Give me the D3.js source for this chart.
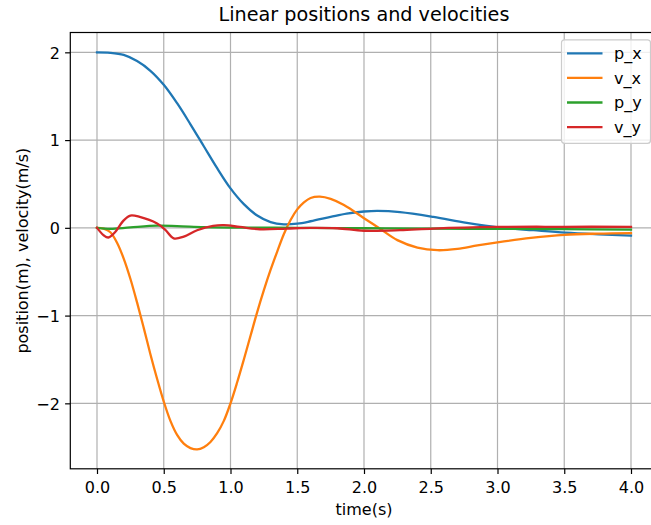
<!DOCTYPE html>
<html>
<head>
<meta charset="utf-8">
<script src="https://cdn.jsdelivr.net/npm/d3@7"></script>
<style>
  body { margin: 0; background: #fff; }
  text { font-family: "DejaVu Sans", sans-serif; }
</style>
</head>
<body>
<div id="grafica"></div>
<script>
// data: [time, value]
var pxData = [[0,2.0],[0.1,1.995],[0.2,1.97],[0.3,1.9],[0.4,1.79],[0.5,1.63],[0.6,1.42],[0.7,1.18],[0.8,0.93],[0.9,0.68],[1.0,0.45],[1.1,0.27],[1.2,0.14],[1.3,0.065],[1.4,0.04],[1.5,0.048],[1.6,0.075],[1.75,0.125],[1.87,0.163],[2.0,0.186],[2.1,0.193],[2.27,0.18],[2.52,0.125],[2.77,0.056],[3.02,0.003],[3.27,-0.027],[3.51,-0.054],[3.76,-0.073],[4.0,-0.088]];
var vxData = [[0,0],[0.05,-0.01],[0.1,-0.05],[0.15,-0.17],[0.2,-0.35],[0.25,-0.58],[0.3,-0.85],[0.35,-1.14],[0.4,-1.44],[0.45,-1.72],[0.5,-1.98],[0.55,-2.2],[0.6,-2.36],[0.65,-2.46],[0.7,-2.51],[0.75,-2.525],[0.8,-2.5],[0.85,-2.44],[0.9,-2.34],[0.95,-2.2],[1.0,-2.0],[1.05,-1.76],[1.1,-1.5],[1.15,-1.23],[1.2,-0.96],[1.25,-0.71],[1.3,-0.48],[1.35,-0.27],[1.4,-0.07],[1.45,0.09],[1.5,0.21],[1.55,0.29],[1.6,0.34],[1.67,0.355],[1.75,0.33],[1.85,0.26],[2.0,0.11],[2.12,-0.01],[2.25,-0.14],[2.4,-0.225],[2.55,-0.255],[2.7,-0.24],[2.85,-0.2],[3.0,-0.165],[3.25,-0.115],[3.5,-0.08],[3.75,-0.066],[4.0,-0.06]];
var pyData = [[0,0],[0.1,-0.012],[0.25,0.005],[0.45,0.025],[0.6,0.02],[0.8,0.008],[1.0,0.003],[1.5,0.0],[2.0,-0.005],[2.5,-0.01],[3.0,-0.012],[3.5,-0.015],[4.0,-0.02]];
var vyData = [[0,0],[0.05,-0.085],[0.085,-0.11],[0.135,-0.05],[0.2,0.085],[0.25,0.14],[0.32,0.125],[0.45,0.05],[0.51,-0.02],[0.575,-0.12],[0.65,-0.1],[0.75,-0.027],[0.87,0.022],[0.95,0.03],[1.07,0.01],[1.22,-0.016],[1.42,-0.008],[1.6,0.0],[1.8,-0.005],[2.0,-0.033],[2.27,-0.027],[2.52,-0.008],[3.0,0.01],[3.5,0.012],[4.0,0.012]];

var seriesNames = ["p_x", "v_x", "p_y", "v_y"];
var seriesData = [pxData, vxData, pyData, vyData];
var colors = ["#1f77b4", "#ff7f0e", "#2ca02c", "#d62728"];
var xTicks = [0, 0.5, 1.0, 1.5, 2.0, 2.5, 3.0, 3.5, 4.0];
var yTicks = [-2, -1, 0, 1, 2];

var w_full = 651,
    h_full = 525;
var margin = { top: 32.5, left: 70.3 };
var w = 587.4,
    h = 436.3;

var svg = d3.select("#grafica")
    .append("svg")
    .attr("width", w_full)
    .attr("height", h_full);

var g = svg.append("g")
    .attr("transform", "translate(" + margin.left + "," + margin.top + ")");

var x = d3.scaleLinear().domain([-0.2, 4.2]).range([0, w]);
var y = d3.scaleLinear().domain([-2.746, 2.226]).range([h, 0]);

// grid
g.append("g")
    .selectAll("line")
    .data(xTicks)
    .enter().append("line")
    .attr("x1", function(d) { return x(d); })
    .attr("x2", function(d) { return x(d); })
    .attr("y1", 0).attr("y2", h)
    .attr("stroke", "#b0b0b0").attr("stroke-width", 1.2);
g.append("g")
    .selectAll("line")
    .data(yTicks)
    .enter().append("line")
    .attr("y1", function(d) { return y(d); })
    .attr("y2", function(d) { return y(d); })
    .attr("x1", 0).attr("x2", w)
    .attr("stroke", "#b0b0b0").attr("stroke-width", 1.2);

// lines
var line = d3.line()
    .x(function(d) { return x(d[0]); })
    .y(function(d) { return y(d[1]); })
    .curve(d3.curveCatmullRom.alpha(0.5));

seriesData.forEach(function(data, i) {
    g.append("path")
        .datum(data)
        .attr("d", line)
        .attr("fill", "none")
        .attr("stroke", colors[i])
        .attr("stroke-width", 2.3)
        .attr("stroke-linejoin", "round")
        .attr("stroke-linecap", "square");
});

// axes
var xAxis = g.append("g")
    .attr("transform", "translate(0," + h + ")")
    .call(d3.axisBottom(x).tickValues(xTicks).tickFormat(d3.format(".1f")).tickSize(5.2).tickPadding(5.2));
var yAxis = g.append("g")
    .call(d3.axisLeft(y).tickValues(yTicks).tickFormat(function(d) { return d < 0 ? "\u2212" + Math.abs(d) : d; }).tickSize(5.2).tickPadding(5.2));

[xAxis, yAxis].forEach(function(a) {
    a.select(".domain").remove();
    a.selectAll("line").attr("stroke", "#000").attr("stroke-width", 1.2);
    a.selectAll("text")
        .style("font-family", "DejaVu Sans, sans-serif")
        .style("font-size", "16px")
        .attr("fill", "#000");
});
xAxis.selectAll("text").attr("dy", "14.3px");
yAxis.selectAll("text").attr("dy", "0.36em");

// spines
g.append("rect")
    .attr("x", 0).attr("y", 0)
    .attr("width", w).attr("height", h)
    .attr("fill", "none")
    .attr("stroke", "#000")
    .attr("stroke-width", 1.2);

// title and labels
svg.append("text")
    .attr("x", margin.left + w / 2)
    .attr("y", 21)
    .attr("text-anchor", "middle")
    .style("font-size", "19.2px")
    .text("Linear positions and velocities");

svg.append("text")
    .attr("x", margin.left + w / 2)
    .attr("y", 514.5)
    .attr("text-anchor", "middle")
    .style("font-size", "16px")
    .text("time(s)");

svg.append("text")
    .attr("transform", "translate(28," + (margin.top + h / 2) + ") rotate(-90)")
    .attr("text-anchor", "middle")
    .style("font-size", "16px")
    .text("position(m), velocity(m/s)");

// legend
var lg = svg.append("g");
lg.append("rect")
    .attr("x", 561.5).attr("y", 39.8)
    .attr("width", 89).attr("height", 103.5)
    .attr("rx", 3)
    .attr("fill", "#fff").attr("fill-opacity", 0.8)
    .attr("stroke", "#cccccc").attr("stroke-width", 1.2);

seriesNames.forEach(function(name, i) {
    var ly = 53.3 + i * 24.6;
    lg.append("line")
        .attr("x1", 567).attr("x2", 602.5)
        .attr("y1", ly).attr("y2", ly)
        .attr("stroke", colors[i]).attr("stroke-width", 2.3);
    lg.append("text")
        .attr("x", 614).attr("y", ly)
        .attr("dy", "0.36em")
        .style("font-size", "16px")
        .text(name);
});
</script>
</body>
</html>
